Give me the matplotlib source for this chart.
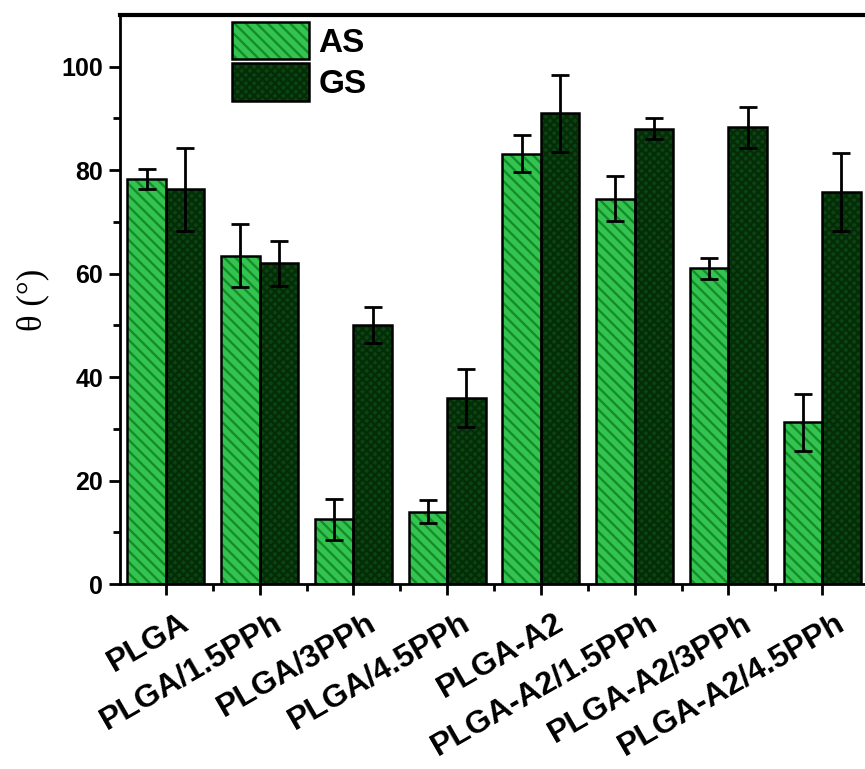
import numpy as np
import matplotlib.pyplot as plt
from matplotlib.transforms import ScaledTranslation

samples = ["PLGA", "PLGA/1.5PPh", "PLGA/3PPh", "PLGA/4.5PPh",
           "PLGA-A2", "PLGA-A2/1.5PPh", "PLGA-A2/3PPh", "PLGA-A2/4.5PPh"]
as_mean = [78.3, 63.5, 12.5, 14.0, 83.2, 74.5, 61.0, 31.3]
as_err = [2.0, 6.0, 4.0, 2.2, 3.6, 4.3, 2.0, 5.5]
gs_mean = [76.3, 62.0, 50.0, 36.0, 91.0, 88.0, 88.3, 75.8]
gs_err = [8.0, 4.3, 3.5, 5.6, 7.4, 2.0, 4.0, 7.6]

plt.rcParams["font.family"] = ["Liberation Sans", "DejaVu Sans"]
plt.rcParams["font.weight"] = "bold"
plt.rcParams["hatch.linewidth"] = 1.7

as_face, as_hatch = "#33c450", "#158c2b"
gs_face, gs_hatch = "#0a4510", "#052c08"

fig = plt.figure(figsize=(8.65, 7.69), dpi=100)
ax = fig.add_axes([120 / 865, 185 / 769, 749 / 865, 569 / 769])

x = np.arange(len(samples))
w = 0.41

# coloured hatch fill first, black outline drawn on top
b_as = ax.bar(x - w / 2, as_mean, w, color=as_face, edgecolor=as_hatch,
              hatch="\\\\\\", lw=0)
b_gs = ax.bar(x + w / 2, gs_mean, w, color=gs_face, edgecolor=gs_hatch,
              hatch="xxxx", lw=0)
o_as = ax.bar(x - w / 2, as_mean, w, fill=False, edgecolor="black", lw=1.8)
o_gs = ax.bar(x + w / 2, gs_mean, w, fill=False, edgecolor="black", lw=1.8)
ax.errorbar(x - w / 2, as_mean, yerr=as_err, fmt="none", ecolor="black",
            elinewidth=2, capsize=6.5, capthick=2)
ax.errorbar(x + w / 2, gs_mean, yerr=gs_err, fmt="none", ecolor="black",
            elinewidth=2, capsize=6.5, capthick=2)

ax.set_xlim(-0.49, 7.5)
ax.set_ylim(0, 110)
ax.set_yticks(np.arange(0, 101, 20))
ax.set_yticks(np.arange(10, 101, 20), minor=True)
ax.set_xticks(x)
ax.set_xticks(x[:-1] + 0.5, minor=True)
ax.tick_params(axis="both", which="major", length=8, width=2, direction="out")
ax.tick_params(axis="both", which="minor", length=5, width=2, direction="out")
ax.tick_params(axis="y", labelsize=18, pad=4)
ax.tick_params(axis="x", pad=9)

ax.set_xticklabels(samples, rotation=30, ha="right", va="top",
                   rotation_mode="anchor", fontsize=23)
off = ScaledTranslation(0.13, 0, fig.dpi_scale_trans)
for lab in ax.get_xticklabels():
    lab.set_transform(lab.get_transform() + off)

for s in ["left", "bottom"]:
    ax.spines[s].set_linewidth(2)
ax.spines["top"].set_linewidth(3)
ax.spines["right"].set_visible(False)

ax.set_ylabel("θ (°)", family=["Liberation Serif", "DejaVu Serif"],
              fontweight="normal", fontsize=25, labelpad=9)

ax.legend([(b_as[0], o_as[0]), (b_gs[0], o_gs[0])], ["AS", "GS"], loc="upper left",
          bbox_to_anchor=(232 / 865, 1 - 22 / 769), bbox_transform=fig.transFigure,
          frameon=False, fontsize=24, handlelength=2.3, handleheight=1.35,
          labelspacing=0.12, handletextpad=0.3, borderpad=0, borderaxespad=0)

fig.savefig("out.png", dpi=100)
